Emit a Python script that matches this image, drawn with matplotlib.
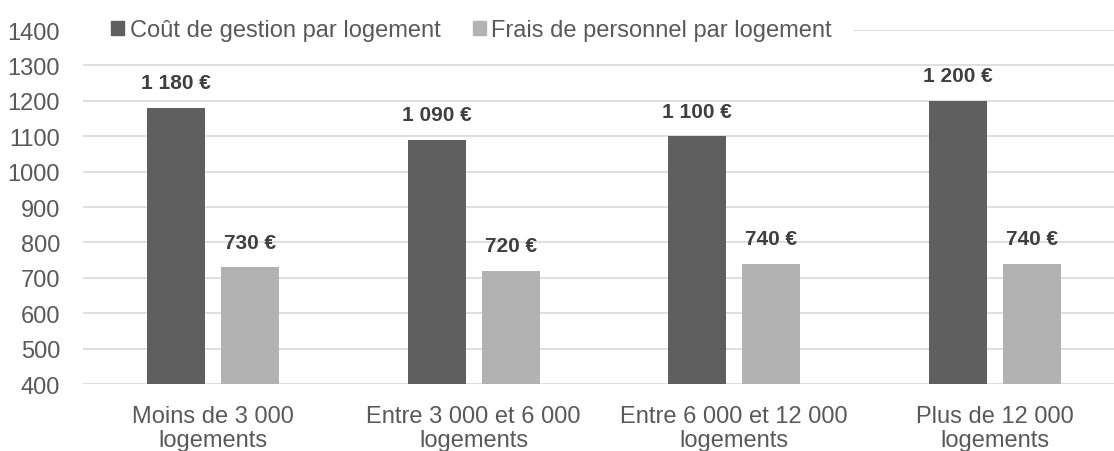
import matplotlib
matplotlib.use("Agg")
import matplotlib.pyplot as plt
from matplotlib.patches import Patch, Rectangle
import numpy as np

categories = ["Moins de 3 000\nlogements", "Entre 3 000 et 6 000\nlogements",
              "Entre 6 000 et 12 000\nlogements", "Plus de 12 000\nlogements"]
cout_gestion = [1180, 1090, 1100, 1200]
frais_personnel = [730, 720, 740, 740]
labels_gestion = ["1 180 €", "1 090 €", "1 100 €", "1 200 €"]
labels_personnel = ["730 €", "720 €", "740 €", "740 €"]
series_names = ["Coût de gestion par logement", "Frais de personnel par logement"]
yticks = list(range(400, 1500, 100))

dark = "#5f5f5f"
light = "#b2b2b2"
txt = "#595959"

plt.rcParams["font.family"] = ["Liberation Sans", "DejaVu Sans"]

fig = plt.figure(figsize=(11.14, 4.52), dpi=100)
ax = fig.add_axes([83 / 1114, 67 / 452, 1042 / 1114, 354 / 452])

x = np.arange(len(categories))
w = 0.223
off = 0.142
ax.bar(x - off, np.array(cout_gestion) - 400, w, bottom=400, color=dark, zorder=3)
ax.bar(x + off, np.array(frais_personnel) - 400, w, bottom=400, color=light, zorder=3)

for i in range(len(categories)):
    ax.annotate(labels_gestion[i], (x[i] - off, cout_gestion[i]), xytext=(0, 18),
                textcoords="offset points", ha="center", va="center",
                fontsize=15, fontweight="bold", color="#3f3f3f")
    ax.annotate(labels_personnel[i], (x[i] + off, frais_personnel[i]), xytext=(0, 18),
                textcoords="offset points", ha="center", va="center",
                fontsize=15, fontweight="bold", color="#3f3f3f")

ax.set_xlim(-0.5, 3.5)
ax.set_ylim(400, 1400)
ax.set_yticks(yticks)
ax.set_xticks(x)
ax.set_xticklabels(categories, linespacing=1.15)
ax.tick_params(axis="y", length=0, pad=16.5, labelsize=17, labelcolor=txt)
ax.tick_params(axis="x", length=0, pad=15, labelsize=17, labelcolor=txt)
ax.yaxis.grid(True, color="#d9d9d9", linewidth=1.2, zorder=0)
ax.set_axisbelow(True)
for s in ax.spines.values():
    s.set_visible(False)

# white band behind the legend hides the top gridline there
ax.add_patch(Rectangle((-0.02, 0.97), (853 - 83) / 1042 + 0.02, 0.06,
                       transform=ax.transAxes, facecolor="white", edgecolor="none",
                       zorder=1, clip_on=False))

handles = [Patch(color=dark), Patch(color=light)]
leg = ax.legend(handles, series_names, loc="center left",
                bbox_to_anchor=((111 - 83) / 1042, 1.0),
                ncol=2, frameon=False, fontsize=17, handlelength=0.55, handleheight=0.55,
                handletextpad=0.25, columnspacing=1.35, borderpad=0, borderaxespad=0)
for t in leg.get_texts():
    t.set_color(txt)

fig.savefig("out.png", dpi=100)
